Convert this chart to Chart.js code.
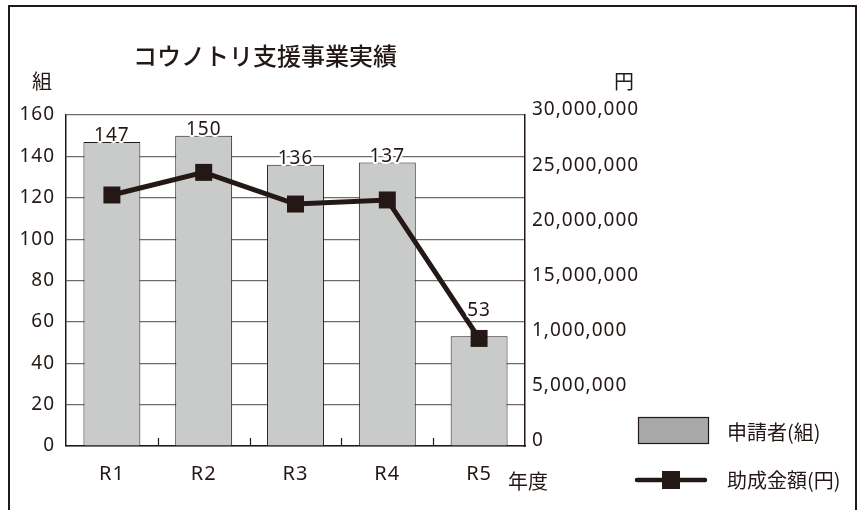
<!DOCTYPE html>
<html lang="ja">
<head>
<meta charset="utf-8">
<title>コウノトリ支援事業実績</title>
<script src="https://cdn.jsdelivr.net/npm/chart.js@4.4.1/dist/chart.umd.min.js"></script>
<style>
    html, body { margin: 0; padding: 0; background: #fff; }
    #wrap { position: relative; width: 858px; height: 510px; overflow: hidden; }
    #frame {
        position: absolute; left: 8px; top: 5px; width: 845px; height: 530px;
        border: 2.5px solid #231815; border-bottom: none;
    }
    #chart { position: absolute; left: 0; top: 0; }
</style>
</head>
<body>
<div id="wrap">
    <div id="frame"></div>
    <canvas id="chart" width="858" height="510"></canvas>
</div>
<script>
// Données
const years = ['R1', 'R2', 'R3', 'R4', 'R5'];
const applicants = [147, 150, 136, 137, 53];
const grants = [22750000, 24800000, 21930000, 22300000, 9750000];
const rightTickLabels = ['0', '5,000,000', '1,000,000', '15,000,000', '20,000,000', '25,000,000', '30,000,000'];

const ink = '#231815';
const sans = "'Noto Sans', 'Noto Sans CJK JP', sans-serif";
const cjk = "'Noto Sans CJK JP', 'Noto Sans', sans-serif";

Chart.defaults.font.family = sans;
Chart.defaults.color = ink;

// texte du graphique : titre, unités, étiquettes, légende
const decor = {
    id: 'decor',
    beforeUpdate(chart) { chart.ctx.letterSpacing = '1px'; },
    beforeDraw(chart) { chart.ctx.letterSpacing = '1px'; },
    afterDatasetsDraw(chart) {
        const ctx = chart.ctx;
        const bars = chart.getDatasetMeta(0).data;
        const pts = chart.getDatasetMeta(1).data;
        ctx.save();
        ctx.font = '19px ' + sans;
        ctx.textAlign = 'center';
        ctx.textBaseline = 'middle';
        ctx.lineJoin = 'round';
        bars.forEach((bar, i) => {
            const y = Math.min(bar.y, pts[i].y - 22) - 6;
            ctx.lineWidth = 4;
            ctx.strokeStyle = '#fff';
            ctx.strokeText(String(applicants[i]), bar.x, y);
            ctx.fillStyle = ink;
            ctx.fillText(String(applicants[i]), bar.x, y);
        });
        ctx.restore();
    },
    afterDraw(chart) {
        const ctx = chart.ctx;
        const xs = chart.scales.x;
        const area = chart.chartArea;
        ctx.save();
        ctx.letterSpacing = '0px';

        // petits traits entre les catégories
        ctx.strokeStyle = ink;
        ctx.lineWidth = 1.2;
        for (let i = 1; i < years.length; i++) {
            const x = Math.round((xs.getPixelForValue(i - 1) + xs.getPixelForValue(i)) / 2) + 0.5;
            ctx.beginPath();
            ctx.moveTo(x, area.bottom);
            ctx.lineTo(x, area.bottom - 8);
            ctx.stroke();
        }

        ctx.fillStyle = ink;
        ctx.textBaseline = 'middle';
        ctx.textAlign = 'center';
        ctx.font = '500 24px ' + cjk;
        ctx.fillText('コウノトリ支援事業実績', 265, 56);

        ctx.font = '20px ' + cjk;
        ctx.fillText('組', 42, 81);
        ctx.fillText('円', 624, 81);
        ctx.textAlign = 'left';
        ctx.fillText('年度', 508, 481);

        // légende
        const bar = chart.data.datasets[0];
        const line = chart.data.datasets[1];
        ctx.fillStyle = '#a8aaa9';
        ctx.fillRect(638, 417, 70, 26);
        ctx.strokeStyle = bar.borderColor;
        ctx.lineWidth = 1.2;
        ctx.strokeRect(638.5, 417.5, 70, 26);

        ctx.strokeStyle = line.borderColor;
        ctx.lineWidth = 4.5;
        ctx.lineCap = 'round';
        ctx.beginPath();
        ctx.moveTo(637, 480);
        ctx.lineTo(705, 480);
        ctx.stroke();
        ctx.fillStyle = line.pointBackgroundColor;
        ctx.fillRect(662, 471, 18, 18);

        ctx.fillStyle = ink;
        ctx.font = '20px ' + cjk;
        ctx.fillText(bar.label, 727, 432);
        ctx.fillText(line.label, 727, 480);
        ctx.restore();
    }
};

new Chart(document.getElementById('chart'), {
    type: 'bar',
    data: {
        labels: years,
        datasets: [{
            type: 'bar',
            label: '申請者(組)',
            data: applicants,
            yAxisID: 'y',
            backgroundColor: '#c9caca',
            borderColor: ink,
            borderWidth: 1,
            categoryPercentage: 1,
            barPercentage: 0.62,
            order: 2
        }, {
            type: 'line',
            label: '助成金額(円)',
            data: grants,
            yAxisID: 'y1',
            borderColor: ink,
            borderWidth: 5,
            pointStyle: 'rect',
            pointRadius: 12,
            pointBorderWidth: 0,
            pointBackgroundColor: ink,
            pointBorderColor: ink,
            tension: 0,
            order: 1
        }]
    },
    options: {
        responsive: false,
        animation: false,
        devicePixelRatio: 1,
        layout: { padding: { top: 115, right: 0, bottom: 0, left: 0 } },
        plugins: {
            legend: { display: false },
            title: { display: false },
            tooltip: { enabled: false }
        },
        scales: {
            x: {
                grid: { display: false },
                border: { display: true, color: ink, width: 1.5 },
                ticks: { font: { size: 20 }, padding: 8, color: ink },
                afterFit: s => { s.height = 64; }
            },
            y: {
                position: 'left',
                min: 0,
                max: 160,
                ticks: { stepSize: 20, font: { size: 19 }, padding: 11, color: ink },
                grid: { color: '#6e6c6c', lineWidth: 1.2, drawTicks: false },
                border: { color: ink, width: 1.5 },
                afterFit: s => { s.width = 66; }
            },
            y1: {
                position: 'right',
                min: 0,
                max: 30000000,
                ticks: {
                    stepSize: 5000000,
                    font: { size: 19 },
                    padding: 7,
                    labelOffset: -5,
                    color: ink,
                    callback: (v, i) => rightTickLabels[i]
                },
                grid: { drawOnChartArea: false, drawTicks: false },
                border: { color: ink, width: 1.5 },
                afterFit: s => { s.width = 333; }
            }
        }
    },
    plugins: [decor]
});
</script>
</body>
</html>
